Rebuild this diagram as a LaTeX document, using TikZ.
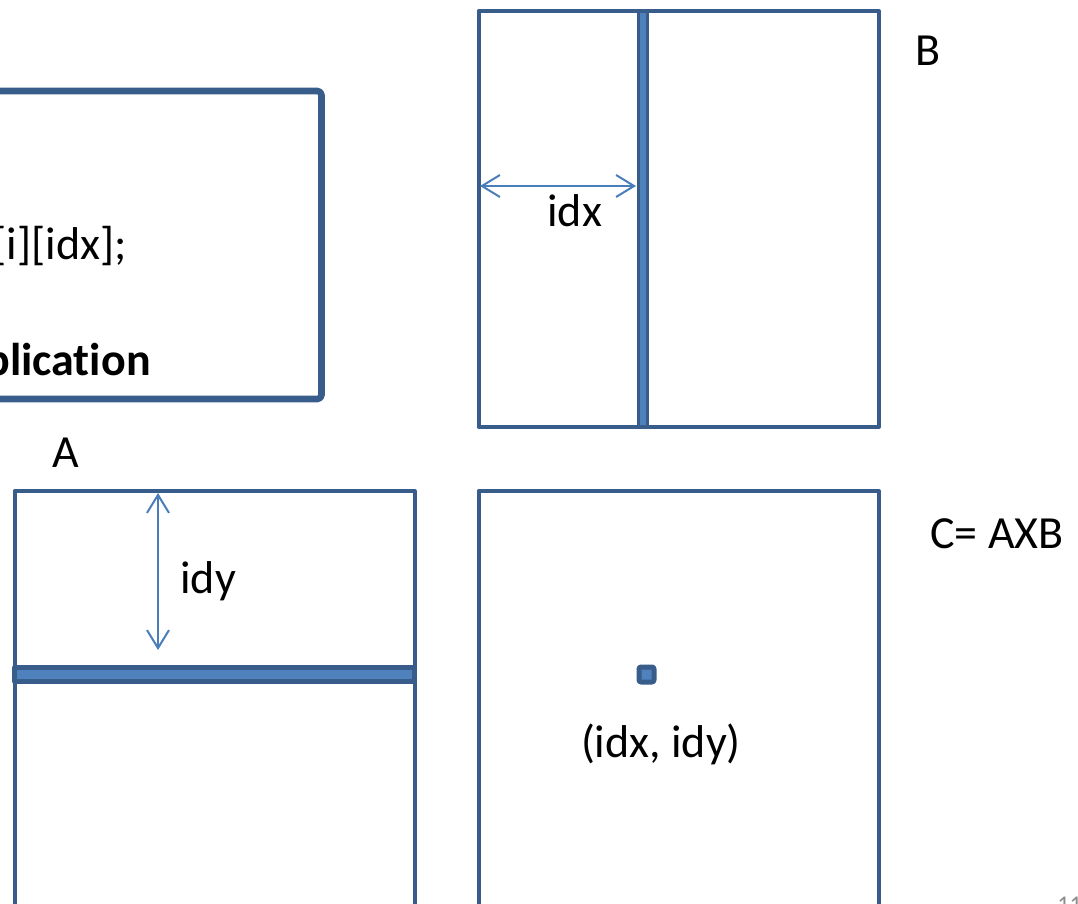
\documentclass[tikz,border=0pt]{standalone}
\usepackage{fontspec}
\setmainfont{Carlito}[Ligatures=NoCommon]
\usetikzlibrary{arrows.meta,positioning}
\definecolor{edge}{HTML}{385D8A}
\definecolor{band}{HTML}{4F81BD}
\definecolor{arr}{HTML}{4A7EBB}
\tikzset{
  matbox/.style={draw=edge,line width=2pt,line join=round},
  strip/.style={draw=edge,fill=band,line width=1.75pt,line join=round},
  dim/.style={draw=arr,line width=1pt,{Straight Barb[length=9pt,width=11pt]}-{Straight Barb[length=9pt,width=11pt]}},
  lbl/.style={font=\fontsize{23}{27}\selectfont,inner sep=0pt}
}

\begin{document}
\begin{tikzpicture}[x=0.5pt,y=-0.5pt]
\useasboundingbox (0,0) rectangle (1078,904);

% kernel box, runs off the left side
\draw[matbox,line width=3.3pt,rounded corners=2pt] (-200,91) rectangle (321.5,399);
\node[lbl,anchor=base east] (code) at (127,260) {[i][idx];};
\node[lbl,anchor=base east,font=\fontsize{23}{27}\selectfont\bfseries] (title) at (151,375) {plication};

% matrix B with column idx
\draw[matbox] (478.5,11) rectangle (879,427);
\draw[strip] (638.5,11) rectangle (647.5,427);
\coordinate (bl) at (480,186);
\coordinate (br) at (636,186);
\draw[dim] (bl) -- (br);
\node[lbl,anchor=base west] (idx) at (547,227) {idx};
\node[lbl,anchor=base west] (nameB) at (915,66) {B};

% matrix A with row idy
\draw[matbox] (14.5,491) rectangle (414.5,1000);
\draw[strip,line width=2.25pt] (14.5,667.5) rectangle (414.5,681.5);
\coordinate (at) at (158,493);
\coordinate (ab) at (158,650);
\draw[dim] (at) -- (ab);
\node[lbl,anchor=base west] (idy) at (180,593) {idy};
\node[lbl,anchor=base west] (nameA) at (52,467) {A};

% matrix C with one element
\draw[matbox] (478.5,491) rectangle (879,1000);
\draw[strip,line width=2.5pt,rounded corners=1pt] (639,667) rectangle (654,682);
\node[lbl,anchor=base] (elem) at (661,757) {(idx, idy)};
\node[lbl,anchor=base west] (nameC) at (930,548) {C= AXB};

\node[anchor=base west,inner sep=0pt,text=black!45,font=\fontsize{12}{14}\selectfont] (page) at (1057,912) {11};
\end{tikzpicture}
\end{document}
